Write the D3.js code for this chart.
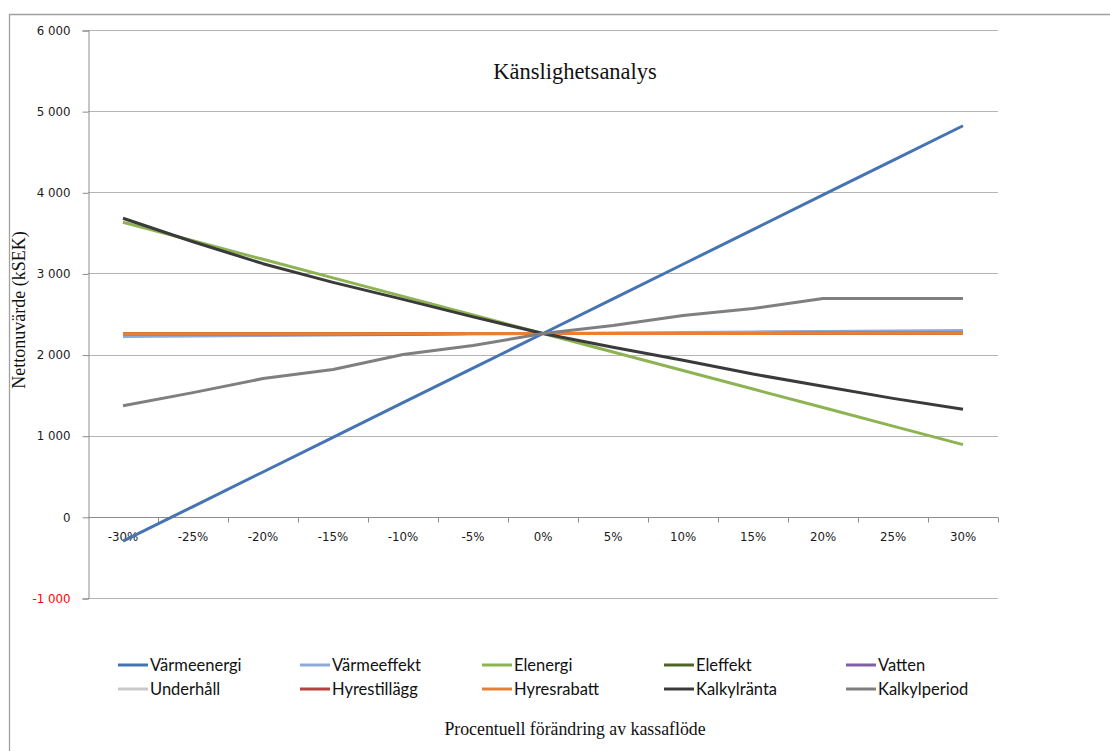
<!DOCTYPE html>
<html>
<head>
<meta charset="utf-8">
<script src="https://cdn.jsdelivr.net/npm/d3@7"></script>
<style>
  html, body { margin: 0; padding: 0; background: #fff; }
  svg { display: block; }
</style>
</head>
<body>
<svg id="chart" width="1110" height="751"></svg>
<script>
// Känslighetsanalys – nettonuvärde vid procentuell förändring av kassaflöden
const categories = ["-30%", "-25%", "-20%", "-15%", "-10%", "-5%", "0%", "5%", "10%", "15%", "20%", "25%", "30%"];

const seriesNames = ["Värmeenergi", "Värmeeffekt", "Elenergi", "Eleffekt", "Vatten",
                     "Underhåll", "Hyrestillägg", "Hyresrabatt", "Kalkylränta", "Kalkylperiod"];
const seriesColors = ["#4674b2", "#8eaadb", "#8db352", "#4f6228", "#7f5fa5",
                      "#c8c8c8", "#b8403d", "#e97f33", "#3a3a3a", "#7f7f7f"];

const varmeenergi  = [-300, 127, 553, 980, 1407, 1833, 2260, 2687, 3113, 3540, 3967, 4393, 4820];
const varmeeffekt  = [2223, 2229, 2235, 2241, 2248, 2254, 2260, 2266, 2272, 2279, 2285, 2291, 2297];
const elenergi     = [3630, 3402, 3174, 2945, 2717, 2488, 2260, 2032, 1803, 1575, 1347, 1118, 890];
const eleffekt     = [2256, 2257, 2257, 2258, 2258, 2259, 2260, 2260, 2261, 2261, 2262, 2262, 2263];
const vatten       = [2256, 2257, 2257, 2258, 2258, 2259, 2260, 2260, 2261, 2261, 2262, 2262, 2263];
const underhall    = [2257, 2257, 2258, 2258, 2259, 2259, 2260, 2260, 2261, 2261, 2262, 2262, 2263];
const hyrestillagg = [2256, 2257, 2257, 2258, 2258, 2259, 2260, 2260, 2261, 2261, 2262, 2262, 2263];
const hyresrabatt  = [2256, 2257, 2257, 2258, 2258, 2259, 2260, 2260, 2261, 2261, 2262, 2262, 2263];
const kalkylranta  = [3680, 3390, 3120, 2890, 2680, 2465, 2260, 2090, 1930, 1760, 1610, 1460, 1325];
const kalkylperiod = [1370, 1531, 1704, 1815, 2000, 2111, 2260, 2358, 2481, 2568, 2691, 2691, 2691];

const seriesValues = [varmeenergi, varmeeffekt, elenergi, eleffekt, vatten,
                      underhall, hyrestillagg, hyresrabatt, kalkylranta, kalkylperiod];

const yTicks = [-1000, 0, 1000, 2000, 3000, 4000, 5000, 6000];
const yTickLabels = ["-1 000", "0", "1 000", "2 000", "3 000", "4 000", "5 000", "6 000"];

const chartTitle = "Känslighetsanalys";
const yTitle = "Nettonuvärde (kSEK)";
const xTitle = "Procentuell förändring av kassaflöde";

const svg = d3.select("#chart");
const plot = { left: 88, right: 998, top: 30, bottom: 598 };

// Outer frame (only top and left edges fall inside the view)
svg.append("path")
  .attr("d", "M9.5,751 L9.5,14.5 L1110,14.5")
  .attr("fill", "none").attr("stroke", "#a0a0a0").attr("stroke-width", 1.3);

const x = d3.scaleBand().domain(categories).range([plot.left, plot.right]).padding(0);
const y = d3.scaleLinear().domain([-1000, 6000]).range([plot.bottom, plot.top]);

// Horizontal gridlines
svg.append("g").selectAll("line").data(yTicks.filter(v => v !== 0)).join("line")
  .attr("x1", plot.left).attr("x2", plot.right)
  .attr("y1", d => Math.round(y(d)) + 0.5).attr("y2", d => Math.round(y(d)) + 0.5)
  .attr("stroke", "#b4b4b4").attr("stroke-width", 1);

// Y axis
const yAxis = d3.axisLeft(y).tickValues(yTicks)
  .tickFormat((d, i) => yTickLabels[i]).tickSize(6).tickPadding(12);
const gy = svg.append("g").attr("transform", `translate(${plot.left + 0.5},0.5)`).call(yAxis);
gy.select(".domain").attr("stroke", "#8c8c8c");
gy.selectAll(".tick line").attr("stroke", "#8c8c8c");
gy.selectAll(".tick text")
  .attr("font-family", "DejaVu Sans, Verdana, sans-serif").attr("font-size", 11.8)
  .attr("fill", d => d < 0 ? "#ff0000" : "#1a1a1a");

// X axis at zero, ticks on category boundaries
const gx = svg.append("g").attr("transform", `translate(0,${Math.round(y(0)) + 0.5})`);
gx.append("line").attr("x1", plot.left).attr("x2", plot.right)
  .attr("stroke", "#8c8c8c");
const boundaries = categories.map(c => x(c)).concat([x(categories[categories.length - 1]) + x.bandwidth()]);
gx.selectAll("line.tk").data(boundaries.slice(1)).join("line").attr("class", "tk")
  .attr("x1", d => Math.round(d) + 0.5).attr("x2", d => Math.round(d) + 0.5)
  .attr("y1", 0).attr("y2", 5).attr("stroke", "#8c8c8c");
gx.selectAll("text").data(categories).join("text")
  .attr("x", d => x(d) + x.bandwidth() / 2).attr("y", 23)
  .attr("text-anchor", "middle")
  .attr("font-family", "DejaVu Sans, Verdana, sans-serif").attr("font-size", 11.8)
  .attr("fill", "#1a1a1a").text(d => d);

// Series lines
const line = d3.line()
  .x((d, i) => x(categories[i]) + x.bandwidth() / 2)
  .y(d => y(d));
svg.append("g").selectAll("path").data(seriesValues).join("path")
  .attr("d", d => line(d))
  .attr("fill", "none")
  .attr("stroke", (d, i) => seriesColors[i])
  .attr("stroke-width", 3)
  .attr("stroke-linejoin", "round");

// Titles
svg.append("text").attr("x", 575).attr("y", 79).attr("text-anchor", "middle")
  .attr("font-family", "Liberation Serif, serif").attr("font-size", 22.5)
  .attr("fill", "#111").text(chartTitle);
svg.append("text").attr("transform", "translate(25,310) rotate(-90)")
  .attr("text-anchor", "middle")
  .attr("font-family", "Liberation Serif, serif").attr("font-size", 18)
  .attr("fill", "#111").text(yTitle);
svg.append("text").attr("x", 575).attr("y", 735).attr("text-anchor", "middle")
  .attr("font-family", "Liberation Serif, serif").attr("font-size", 17.8)
  .attr("fill", "#111").text(xTitle);

// Legend: 5 columns, 2 rows
const legend = svg.append("g");
const items = legend.selectAll("g").data(seriesNames).join("g")
  .attr("transform", (d, i) => `translate(${118 + (i % 5) * 182},${665 + Math.floor(i / 5) * 24})`);
items.append("line").attr("x1", 0).attr("x2", 30).attr("y1", 0).attr("y2", 0)
  .attr("stroke", (d, i) => seriesColors[i]).attr("stroke-width", 3);
items.append("text").attr("x", 32).attr("y", 5.5)
  .attr("font-family", "Lato, Carlito, sans-serif").attr("font-size", 16.5)
  .attr("fill", "#111").text(d => d);
</script>
</body>
</html>
